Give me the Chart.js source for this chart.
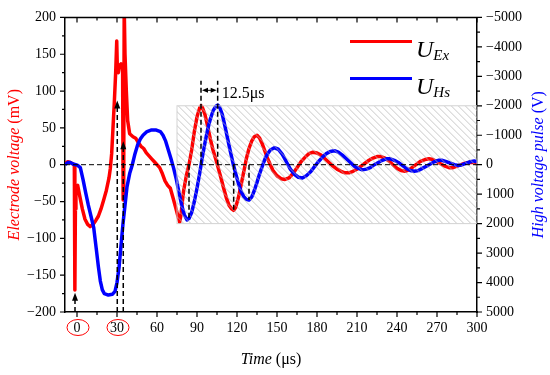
<!DOCTYPE html>
<html lang="en">
<head>
<meta charset="UTF-8">
<title>Electrode voltage and high voltage pulse</title>
<script src="https://cdn.jsdelivr.net/npm/chart.js@4.4.1/dist/chart.umd.min.js"></script>
<style>
  html, body { margin: 0; padding: 0; background: #fff; }
  #chart { display: block; }
</style>
</head>
<body>
<canvas id="chart" width="550" height="375"></canvas>
<script>
// axis ticks
const timeTicks = [0, 30, 60, 90, 120, 150, 180, 210, 240, 270, 300];
const mvTicks = [-200, -150, -100, -50, 0, 50, 100, 150, 200];
const voltTicks = [-5000, -4000, -3000, -2000, -1000, 0, 1000, 2000, 3000, 4000, 5000];

// U_Ex : electrode voltage (mV)
const exTime = [-9, -7, -5, -3, -2, -1.6, -1.2, -0.8, 0.5, 2, 4, 6, 8, 9.8, 12, 14, 16, 18, 20, 22,
  24, 25, 26, 27, 28, 29, 29.8, 30.3, 31, 32, 33, 34.2, 34.6, 35, 35.4, 36, 37, 38, 39.5, 42,
  44, 46, 48, 50, 52, 54, 56, 58, 60, 62, 64, 66, 68, 70, 72, 74, 76, 77, 78, 79,
  80, 82, 84, 86, 88, 90, 92, 93, 94, 96, 98, 100, 102, 104, 106, 108, 110, 112, 114, 116,
  117.5, 119, 121, 123, 125, 127, 129, 131, 133, 135, 137, 139, 141, 143, 145, 147, 150, 153, 156, 159,
  162, 165, 168, 171, 174, 177, 180, 183, 186, 189, 192, 195, 198, 201, 204, 207, 210, 213, 216, 219,
  222, 225, 228, 231, 234, 237, 240, 243, 246, 249, 252, 255, 258, 261, 264, 267, 270, 273, 276, 279,
  282, 285, 288, 291, 294, 297, 300];
const exValues = [2, 4, 3, 1, 0, -170, -60, -30, -28, -42, -60, -74, -81, -84, -81, -76, -70, -60, -48, -35,
  -18, -5, 15, 50, 85, 125, 168, 128, 125, 135, 137, 132, -48, -40, 215, 150, 100, 60, 42, 38,
  36, 30, 25, 22, 16, 12, 8, 4, 0, -4, -12, -22, -28, -32, -45, -58, -72, -78, -68, -50,
  -35, -15, 0, 20, 45, 65, 77, 80, 78, 68, 52, 35, 20, 8, -5, -18, -32, -45, -55, -60,
  -62, -58, -45, -28, -10, 8, 22, 32, 38, 40, 36, 28, 18, 8, 0, -8, -15, -19, -20, -18,
  -12, -4, 4, 10, 15, 17, 16, 13, 8, 3, -2, -6, -9, -11, -11, -9, -6, -2, 2, 6,
  9, 11, 11, 9, 5, 0, -5, -8, -9, -7, -3, 1, 5, 7, 8, 7, 4, 1, -2, -4,
  -4, -2, 0, 2, 3, 3, 2];

// U_Hs : high voltage pulse (V), right axis is reversed
const hsTime = [-9, -7, -5, -3, -1, 0.5, 2.5, 4.5, 6.5, 8.5, 10.5, 12.5, 14.5, 16, 17.5, 19, 20.5, 23.5, 26.5, 28.5,
  30, 31.5, 33, 34.5, 36, 37.5, 39.5, 41.5, 43.5, 45.5, 47.5, 49.5, 52.5, 55.5, 59.5, 62.5, 64.5, 66.5, 68.5, 70.5,
  72.5, 74.5, 76.5, 78.5, 80.5, 82.5, 84, 86, 88, 90, 92, 94, 96, 98, 100, 102, 104, 105.5, 107, 109,
  111, 113, 115, 117, 119, 121, 123, 125, 127, 129, 131, 133, 135, 137, 139, 141, 143, 145, 148, 151,
  154, 157, 160, 163, 166, 169, 172, 175, 178, 181, 184, 187, 190, 193, 196, 199, 202, 205, 208, 211,
  214, 217, 220, 223, 226, 229, 232, 235, 238, 241, 244, 247, 250, 253, 256, 259, 262, 265, 268, 271,
  274, 277, 280, 283, 286, 289, 292, 295, 298, 300];
const hsValues = [0, -75, -75, -25, 0, 25, 100, 500, 950, 1375, 1750, 2125, 2875, 3450, 3950, 4250, 4375, 4425, 4400, 4300,
  4000, 3500, 2750, 2000, 1375, 750, 300, 0, -375, -675, -875, -1000, -1125, -1175, -1175, -1125, -1000, -800, -500, -200,
  125, 500, 950, 1375, 1700, 1875, 1825, 1625, 1250, 800, 300, -250, -750, -1200, -1550, -1825, -1975, -2025, -1950, -1700,
  -1300, -875, -450, -50, 300, 625, 900, 1075, 1175, 1200, 1100, 875, 600, 300, 50, -200, -375, -500, -575, -525,
  -350, -100, 150, 325, 425, 450, 375, 250, 75, -100, -250, -375, -450, -475, -425, -325, -200, -75, 50, 125,
  175, 150, 100, 0, -75, -150, -200, -200, -150, -75, 25, 125, 200, 225, 200, 125, 50, -25, -100, -150,
  -150, -100, -50, 0, 25, 0, -50, -100, -125, -100];

const seriesNames = ['Ex', 'Hs'];
const seriesColors = ['#ff0000', '#0000ff'];

// annotations, in data units (µs, mV)
const shadeBox = { t0: 75, t1: 300, mv0: -80, mv1: 80 };
const arrowMarks = [{ t: -1.5, mv: -174 }, { t: 30.2, mv: 87 }, { t: 34.7, mv: 32 }];
const dropLines = [
  { t: 84, from: 0, to: -75 }, { t: 93, from: 0, to: 114 }, { t: 105.5, from: 0, to: 114 },
  { t: 117.5, from: 0, to: -62 }, { t: 129, from: 0, to: -48 }
];
const delayMark = { t0: 93, t1: 105.5, mv: 101, text: '12.5μs' };
const circledTicks = [0, 30];

const serif = '"Liberation Serif", "DejaVu Serif", serif';
Chart.defaults.font.family = serif;
Chart.defaults.font.size = 14;
Chart.defaults.color = '#000';

const minus = v => String(v).replace('-', '\u2212');

function dashedV(ctx, px, p0, p1) {
  ctx.beginPath();
  ctx.moveTo(px, p0);
  ctx.lineTo(px, p1);
  ctx.stroke();
}

function arrowHead(ctx, px, py, dir) {
  // dir: 'up', 'left', 'right'
  ctx.beginPath();
  if (dir === 'up') {
    ctx.moveTo(px, py); ctx.lineTo(px - 3, py + 8); ctx.lineTo(px + 3, py + 8);
  } else if (dir === 'left') {
    ctx.moveTo(px, py); ctx.lineTo(px + 6, py - 2.5); ctx.lineTo(px + 6, py + 2.5);
  } else {
    ctx.moveTo(px, py); ctx.lineTo(px - 6, py - 2.5); ctx.lineTo(px - 6, py + 2.5);
  }
  ctx.closePath();
  ctx.fill();
}

const decor = {
  id: 'decor',
  afterDatasetsDraw(chart) {
    const { ctx, chartArea: a, scales } = chart;
    const x = scales.x, y = scales.y;
    ctx.save();

    // hatched region
    const bx0 = x.getPixelForValue(shadeBox.t0), bx1 = x.getPixelForValue(shadeBox.t1);
    const by0 = y.getPixelForValue(shadeBox.mv1), by1 = y.getPixelForValue(shadeBox.mv0);
    const h = by1 - by0;
    ctx.save();
    ctx.beginPath();
    ctx.rect(bx0, by0, bx1 - bx0, h);
    ctx.clip();
    ctx.strokeStyle = 'rgba(180,180,180,0.7)';
    ctx.lineWidth = 1;
    ctx.beginPath();
    for (let k = bx0 - h; k < bx1; k += 7) {
      ctx.moveTo(k, by0);
      ctx.lineTo(k + h, by1);
    }
    ctx.stroke();
    ctx.restore();
    ctx.strokeStyle = 'rgba(205,205,205,0.9)';
    ctx.lineWidth = 1;
    ctx.strokeRect(bx0, by0, bx1 - bx0, h);

    // zero line
    ctx.strokeStyle = '#000';
    ctx.fillStyle = '#000';
    ctx.lineWidth = 1;
    ctx.setLineDash([5, 3]);
    const y0 = y.getPixelForValue(0);
    ctx.beginPath();
    ctx.moveTo(a.left, y0);
    ctx.lineTo(a.right, y0);
    ctx.stroke();

    // vertical markers
    ctx.lineWidth = 1.5;
    ctx.setLineDash([5, 3]);
    arrowMarks.forEach(m => {
      const px = x.getPixelForValue(m.t);
      dashedV(ctx, px, a.bottom, y.getPixelForValue(m.mv) + 7);
    });
    dropLines.forEach(m => {
      const px = x.getPixelForValue(m.t);
      dashedV(ctx, px, y.getPixelForValue(m.from), y.getPixelForValue(m.to));
    });
    ctx.setLineDash([]);
    arrowMarks.forEach(m => {
      arrowHead(ctx, x.getPixelForValue(m.t), y.getPixelForValue(m.mv), 'up');
    });

    // delay bracket
    const dx0 = x.getPixelForValue(delayMark.t0) + 1;
    const dx1 = x.getPixelForValue(delayMark.t1) - 1;
    const dy = y.getPixelForValue(delayMark.mv);
    ctx.lineWidth = 1;
    ctx.beginPath();
    ctx.moveTo(dx0 + 4, dy);
    ctx.lineTo(dx1 - 4, dy);
    ctx.stroke();
    arrowHead(ctx, dx0, dy, 'left');
    arrowHead(ctx, dx1, dy, 'right');
    ctx.font = '16px ' + serif;
    ctx.textAlign = 'left';
    ctx.textBaseline = 'middle';
    ctx.fillText(delayMark.text, dx1 + 5, dy + 3);
    ctx.restore();
  },
  afterDraw(chart) {
    const { ctx, chartArea: a, scales } = chart;
    const x = scales.x, y = scales.y, y2 = scales.y2;
    ctx.save();
    ctx.strokeStyle = '#000';
    ctx.lineWidth = 1.5;

    // frame top edge
    ctx.beginPath();
    ctx.moveTo(a.left, a.top);
    ctx.lineTo(a.right, a.top);
    ctx.stroke();

    // major and minor tick marks
    const mids = arr => arr.slice(1).map((v, i) => (v + arr[i]) / 2);
    ctx.lineWidth = 1.2;
    ctx.beginPath();
    [[timeTicks, 5], [mids(timeTicks), 3]].forEach(([vals, len]) => {
      vals.forEach(v => {
        const px = x.getPixelForValue(v);
        ctx.moveTo(px, a.bottom); ctx.lineTo(px, a.bottom + len);
        ctx.moveTo(px, a.top); ctx.lineTo(px, a.top + len);
      });
    });
    [[mvTicks, 5], [mids(mvTicks), 3]].forEach(([vals, len]) => {
      vals.forEach(v => {
        const py = y.getPixelForValue(v);
        ctx.moveTo(a.left, py); ctx.lineTo(a.left - len, py);
      });
    });
    [[voltTicks, 5], [mids(voltTicks), 3]].forEach(([vals, len]) => {
      vals.forEach(v => {
        const py = y2.getPixelForValue(v);
        ctx.moveTo(a.right, py); ctx.lineTo(a.right + len, py);
      });
    });
    ctx.stroke();

    // circled tick labels
    ctx.strokeStyle = '#ff0000';
    ctx.lineWidth = 1;
    circledTicks.forEach(v => {
      ctx.beginPath();
      ctx.ellipse(x.getPixelForValue(v) + 1, 327.5, 11, 8, 0, 0, Math.PI * 2);
      ctx.stroke();
    });

    // legend
    chart.data.datasets.forEach((ds, i) => {
      const ly = 41.5 + i * 37;
      ctx.strokeStyle = ds.borderColor;
      ctx.lineWidth = 3;
      ctx.beginPath();
      ctx.moveTo(350, ly);
      ctx.lineTo(412, ly);
      ctx.stroke();
      ctx.fillStyle = '#000';
      ctx.textAlign = 'left';
      ctx.textBaseline = 'alphabetic';
      ctx.font = 'italic 24px ' + serif;
      ctx.fillText('U', 416, ly + 15);
      const uw = ctx.measureText('U').width;
      ctx.font = 'italic 15px ' + serif;
      ctx.fillText(seriesNames[i], 416 + uw, ly + 18);
    });

    // axis titles with mixed styles
    const titled = (parts, cx, cy, rot, color) => {
      ctx.save();
      ctx.translate(cx, cy);
      ctx.rotate(rot);
      ctx.fillStyle = color;
      ctx.textBaseline = 'middle';
      ctx.textAlign = 'left';
      let total = 0;
      parts.forEach(p => { ctx.font = p[1] + ' 16px ' + serif; total += ctx.measureText(p[0]).width; });
      let cur = -total / 2;
      parts.forEach(p => {
        ctx.font = p[1] + ' 16px ' + serif;
        ctx.fillText(p[0], cur, 0);
        cur += ctx.measureText(p[0]).width;
      });
      ctx.restore();
    };
    titled([['Time', 'italic'], [' (\u03bcs)', 'normal']], (a.left + a.right) / 2, 360, 0, '#000');
    titled([['Electrode voltage', 'italic'], [' (mV)', 'normal']], 15, (a.top + a.bottom) / 2, -Math.PI / 2, '#ff0000');
    titled([['High voltage pulse', 'italic'], [' (V)', 'normal']], 539, (a.top + a.bottom) / 2, -Math.PI / 2, '#0000ff');
    ctx.restore();
  }
};

const toPoints = (ts, vs) => ts.map((t, i) => ({ x: t, y: vs[i] }));

new Chart(document.getElementById('chart'), {
  type: 'line',
  data: {
    datasets: [
      {
        label: 'U' + seriesNames[0],
        data: toPoints(exTime, exValues),
        borderColor: seriesColors[0],
        yAxisID: 'y',
        order: 1
      },
      {
        label: 'U' + seriesNames[1],
        data: toPoints(hsTime, hsValues),
        borderColor: seriesColors[1],
        yAxisID: 'y2',
        order: 0
      }
    ]
  },
  options: {
    responsive: false,
    animation: false,
    layout: { padding: { top: 10, left: 0, right: 0, bottom: 0 } },
    elements: {
      point: { radius: 0 },
      line: { borderWidth: 3.5, tension: 0, borderJoinStyle: 'round' }
    },
    plugins: { legend: { display: false }, tooltip: { enabled: false } },
    scales: {
      x: {
        type: 'linear',
        min: -9,
        max: 300,
        afterBuildTicks: s => { s.ticks = timeTicks.map(v => ({ value: v })); },
        afterFit: s => { s.height = 63; },
        ticks: { autoSkip: false, maxRotation: 0, padding: 8 },
        grid: { drawOnChartArea: false, drawTicks: false },
        border: { color: '#000', width: 1.5 }
      },
      y: {
        position: 'left',
        min: -200,
        max: 200,
        afterBuildTicks: s => { s.ticks = mvTicks.map(v => ({ value: v })); },
        afterFit: s => { s.width = 65; },
        ticks: { padding: 9, callback: v => minus(v) },
        grid: { drawOnChartArea: false, drawTicks: false },
        border: { color: '#000', width: 1.5 }
      },
      y2: {
        position: 'right',
        reverse: true,
        min: -5000,
        max: 5000,
        afterBuildTicks: s => { s.ticks = voltTicks.map(v => ({ value: v })); },
        afterFit: s => { s.width = 73; },
        ticks: { padding: 9, callback: v => minus(v) },
        grid: { drawOnChartArea: false, drawTicks: false },
        border: { color: '#000', width: 1.5 }
      }
    }
  },
  plugins: [decor]
});
</script>
</body>
</html>
